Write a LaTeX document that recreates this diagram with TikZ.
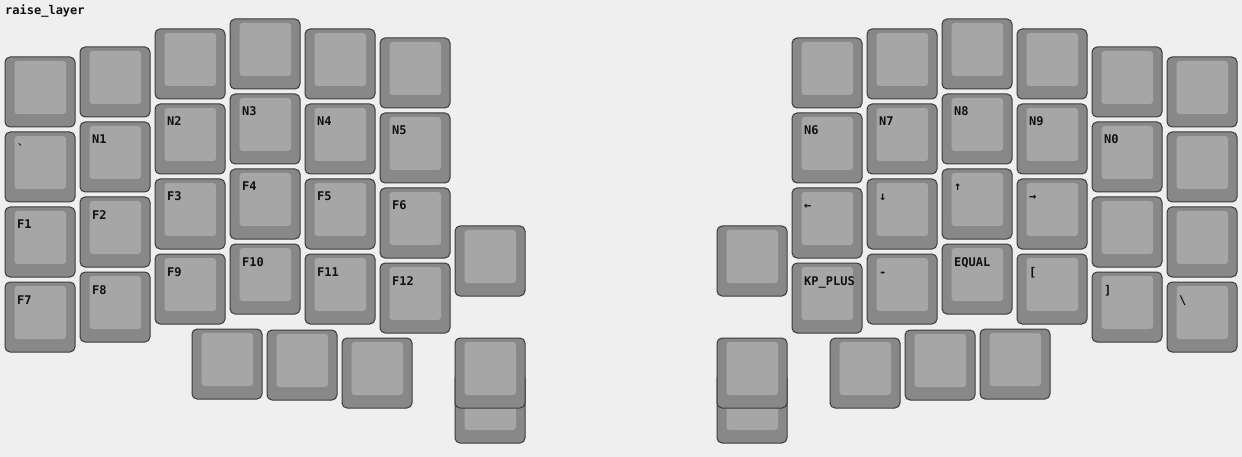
\documentclass[tikz,border=0pt]{standalone}
\usepackage{fontspec}
\newfontfamily\kbfont{DejaVu Sans Mono Bold}
\definecolor{kbbg}{HTML}{EFEFEF}
\definecolor{kbouter}{HTML}{888888}
\definecolor{kbinner}{HTML}{A6A6A6}
\definecolor{kbstroke}{HTML}{3C3C3C}
\definecolor{kbtext}{HTML}{111111}
\tikzset{
  keyouter/.style={draw=kbstroke, fill=kbouter, line width=1pt, rounded corners=5pt,
    minimum width=70pt, minimum height=70pt, inner sep=0pt, outer sep=0pt},
  keyinner/.style={fill=kbinner, rounded corners=3pt, minimum width=51.5pt,
    minimum height=53pt, inner sep=0pt, outer sep=0pt},
  keylabel/.style={anchor=base west, inner sep=0pt, text=kbtext,
    font=\kbfont\fontsize{12}{14}\selectfont},
}
\newcommand\kbkey[4]{%
  \node[keyouter] (#1) at ({#2+35},{#3+35}) {};
  \node[keyinner] (#1in) at ({#2+35.25},{#3+30.5}) {};
  \node[keylabel] (#1lab) at ({#2+12},{#3+22}) {#4};
}
\begin{document}
\begin{tikzpicture}[x=1pt,y=-1pt]
\useasboundingbox (0,0) rectangle (1242,457);
\fill[kbbg] (0,0) rectangle (1242,457);
\node[keylabel] (title) at (5,15) {raise\_layer};
% left half
\kbkey{la0}{5}{57}{}
\kbkey{la1}{5}{132}{`}
\kbkey{la2}{5}{207}{F1}
\kbkey{la3}{5}{282}{F7}
\kbkey{lb0}{80}{47}{}
\kbkey{lb1}{80}{122}{N1}
\kbkey{lb2}{80}{197}{F2}
\kbkey{lb3}{80}{272}{F8}
\kbkey{lc0}{155}{29}{}
\kbkey{lc1}{155}{104}{N2}
\kbkey{lc2}{155}{179}{F3}
\kbkey{lc3}{155}{254}{F9}
\kbkey{ld0}{230}{19}{}
\kbkey{ld1}{230}{94}{N3}
\kbkey{ld2}{230}{169}{F4}
\kbkey{ld3}{230}{244}{F10}
\kbkey{le0}{305}{29}{}
\kbkey{le1}{305}{104}{N4}
\kbkey{le2}{305}{179}{F5}
\kbkey{le3}{305}{254}{F11}
\kbkey{lf0}{380}{38}{}
\kbkey{lf1}{380}{113}{N5}
\kbkey{lf2}{380}{188}{F6}
\kbkey{lf3}{380}{263}{F12}
\kbkey{lg}{455}{226}{}
\kbkey{lt1}{192}{329}{}
\kbkey{lt2}{267}{330}{}
\kbkey{lt3}{342}{338}{}
\kbkey{lt4back}{455}{373}{}
\kbkey{lt4}{455}{338}{}
% right half
\kbkey{ra0}{1167}{57}{}
\kbkey{ra1}{1167}{132}{}
\kbkey{ra2}{1167}{207}{}
\kbkey{ra3}{1167}{282}{\textbackslash}
\kbkey{rb0}{1092}{47}{}
\kbkey{rb1}{1092}{122}{N0}
\kbkey{rb2}{1092}{197}{}
\kbkey{rb3}{1092}{272}{]}
\kbkey{rc0}{1017}{29}{}
\kbkey{rc1}{1017}{104}{N9}
\kbkey{rc2}{1017}{179}{→}
\kbkey{rc3}{1017}{254}{[}
\kbkey{rd0}{942}{19}{}
\kbkey{rd1}{942}{94}{N8}
\kbkey{rd2}{942}{169}{↑}
\kbkey{rd3}{942}{244}{EQUAL}
\kbkey{re0}{867}{29}{}
\kbkey{re1}{867}{104}{N7}
\kbkey{re2}{867}{179}{↓}
\kbkey{re3}{867}{254}{-}
\kbkey{rf0}{792}{38}{}
\kbkey{rf1}{792}{113}{N6}
\kbkey{rf2}{792}{188}{←}
\kbkey{rf3}{792}{263}{KP\_PLUS}
\kbkey{rg}{717}{226}{}
\kbkey{rt1}{980}{329}{}
\kbkey{rt2}{905}{330}{}
\kbkey{rt3}{830}{338}{}
\kbkey{rt4back}{717}{373}{}
\kbkey{rt4}{717}{338}{}
\end{tikzpicture}
\end{document}
